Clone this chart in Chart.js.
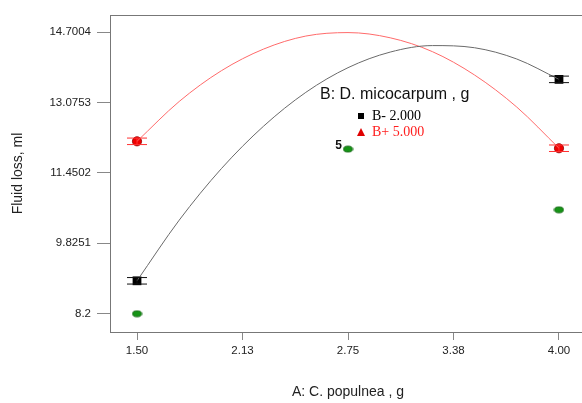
<!DOCTYPE html>
<html>
<head>
<meta charset="utf-8">
<script src="https://cdn.jsdelivr.net/npm/chart.js@4.4.0/dist/chart.umd.min.js"></script>
<style>
  html, body { margin: 0; padding: 0; background: #fff; overflow: hidden; }
  #wrap { width: 582px; height: 403px; overflow: hidden; }
</style>
</head>
<body>
<div id="wrap"><canvas id="fluidChart" width="610" height="403"></canvas></div>
<script>
// ===== values =====
const xTicks = [1.5, 2.125, 2.75, 3.375, 4.0];
const xTickLabels = ['1.50', '2.13', '2.75', '3.38', '4.00'];
const yTicks = [8.2, 9.8251, 11.4502, 13.0753, 14.7004];
const yTickLabels = ['8.2', '9.8251', '11.4502', '13.0753', '14.7004'];

// fitted curves (A on x, one line per level of B)
const curveA = [1.5, 1.75, 2.0, 2.25, 2.5, 2.75, 3.0, 3.25, 3.5, 3.75, 4.0];
const curveLow = [8.96, 10.36, 11.55, 12.53, 13.31, 13.88, 14.24, 14.39, 14.34, 14.08, 13.61];
const curveHigh = [12.18, 13.10, 13.81, 14.31, 14.61, 14.69, 14.57, 14.25, 13.71, 12.97, 12.02];

// predicted means at the design points, with LSD half-width
const designA = [1.5, 4.0];
const meanLow = [8.96, 13.61];
const meanHigh = [12.18, 12.02];
const lsdHalf = [0.075, 0.075];

// actual design points
const actualA = [1.5, 2.75, 4.0];
const actualY = [8.2, 12.0, 10.6];
const actualLabels = ['', '5', ''];

const SANS = '"Liberation Sans", Arial, sans-serif';
const SERIF = '"Liberation Serif", "Times New Roman", serif';

// green ellipse marker
const ellipse = document.createElement('canvas');
ellipse.width = 11; ellipse.height = 8;
(function () {
  const c = ellipse.getContext('2d');
  c.beginPath();
  c.ellipse(5.5, 4, 4.6, 3, 0, 0, Math.PI * 2);
  c.fillStyle = '#169416';
  c.fill();
  c.lineWidth = 0.8;
  c.strokeStyle = '#0b5a0b';
  c.stroke();
})();

const toXY = (xs, ys) => xs.map((x, i) => ({ x: x, y: ys[i] }));

// ===== extra drawing: error caps, point labels, frame top, legend =====
const extras = {
  id: 'extras',
  afterDatasetsDraw(chart) {
    const ctx = chart.ctx;
    const ys = chart.scales.y;
    const area = chart.chartArea;

    // top frame line
    ctx.save();
    ctx.strokeStyle = '#777';
    ctx.lineWidth = 1;
    ctx.beginPath();
    ctx.moveTo(area.left, area.top + 0.5);
    ctx.lineTo(area.right, area.top + 0.5);
    ctx.stroke();

    chart.data.datasets.forEach((ds, di) => {
      const meta = chart.getDatasetMeta(di);
      if (ds.errHalf) {
        ctx.strokeStyle = ds.capColor;
        ctx.lineWidth = 1;
        meta.data.forEach((pt, i) => {
          const v = ds.data[i].y;
          const yTop = ys.getPixelForValue(v + ds.errHalf[i]);
          const yBot = ys.getPixelForValue(v - ds.errHalf[i]);
          ctx.beginPath();
          ctx.moveTo(pt.x - 10, yTop); ctx.lineTo(pt.x + 10, yTop);
          ctx.moveTo(pt.x - 10, yBot); ctx.lineTo(pt.x + 10, yBot);
          ctx.moveTo(pt.x, yTop); ctx.lineTo(pt.x, yBot);
          ctx.stroke();
        });
      }
      if (ds.pointLabels) {
        ctx.fillStyle = '#111';
        ctx.font = 'bold 12px ' + SANS;
        ctx.textAlign = 'right';
        ctx.textBaseline = 'middle';
        meta.data.forEach((pt, i) => {
          if (ds.pointLabels[i]) ctx.fillText(ds.pointLabels[i], pt.x - 6, pt.y - 3);
        });
      }
    });

    // legend inside the plot
    ctx.textAlign = 'left';
    ctx.textBaseline = 'middle';
    ctx.fillStyle = '#111';
    ctx.font = '16px ' + SANS;
    ctx.fillText('B: D. micocarpum , g', 320, 95);

    ctx.fillStyle = '#000';
    ctx.fillRect(358, 113, 6, 6);
    ctx.font = '14px ' + SERIF;
    ctx.fillText('B- 2.000', 372, 116.5);

    ctx.fillStyle = '#e00000';
    ctx.beginPath();
    ctx.moveTo(361, 128); ctx.lineTo(365, 136); ctx.lineTo(357, 136);
    ctx.closePath();
    ctx.fill();
    ctx.fillStyle = '#ff2020';
    ctx.fillText('B+ 5.000', 372, 132.5);
    ctx.restore();
  }
};

const ctx = document.getElementById('fluidChart').getContext('2d');

const fluidChart = new Chart(ctx, {
  type: 'scatter',
  data: {
    datasets: [
      {
        type: 'line',
        data: toXY(curveA, curveLow),
        borderColor: '#6a6a6a',
        borderWidth: 1,
        pointRadius: 0,
        cubicInterpolationMode: 'monotone',
        fill: false
      },
      {
        type: 'line',
        data: toXY(curveA, curveHigh),
        borderColor: '#ff6a6a',
        borderWidth: 1,
        pointRadius: 0,
        cubicInterpolationMode: 'monotone',
        fill: false
      },
      {
        data: toXY(designA, meanLow),
        pointStyle: 'rect',
        pointRadius: 6.2,
        backgroundColor: '#000',
        borderColor: '#000',
        borderWidth: 0,
        errHalf: lsdHalf,
        capColor: '#111'
      },
      {
        data: toXY(designA, meanHigh),
        pointStyle: 'circle',
        pointRadius: 4.6,
        backgroundColor: '#f00000',
        borderColor: '#900000',
        borderWidth: 0.8,
        errHalf: lsdHalf,
        capColor: '#ff3030'
      },
      {
        data: toXY(actualA, actualY),
        pointStyle: ellipse,
        pointRadius: 5,
        pointLabels: actualLabels
      }
    ]
  },
  options: {
    responsive: false,
    animation: false,
    layout: { padding: { top: 15, right: 24, left: 0, bottom: 0 } },
    plugins: { legend: { display: false }, tooltip: { enabled: false } },
    scales: {
      x: {
        type: 'linear',
        min: 1.34,
        max: 4.16,
        afterBuildTicks: s => { s.ticks = xTicks.map(v => ({ value: v })); },
        afterFit: s => { s.height = 71; },
        ticks: {
          callback: (v, i) => xTickLabels[i],
          font: { family: SANS, size: 11.5 },
          color: '#222',
          padding: 4,
          maxRotation: 0,
          autoSkip: false
        },
        grid: { drawOnChartArea: false, drawTicks: true, tickLength: 8, color: '#888' },
        border: { display: true, color: '#777', width: 1 },
        title: {
          display: true,
          text: 'A: C. populnea , g',
          font: { family: SANS, size: 14 },
          color: '#222',
          padding: { top: 0, bottom: 2 }
        }
      },
      y: {
        type: 'linear',
        min: 7.778,
        max: 15.096,
        afterBuildTicks: s => { s.ticks = yTicks.map(v => ({ value: v })); },
        afterFit: s => { s.width = 110; },
        ticks: {
          callback: (v, i) => yTickLabels[i],
          font: { family: SANS, size: 11.5 },
          color: '#222',
          padding: 6,
          autoSkip: false
        },
        grid: { drawOnChartArea: false, drawTicks: true, tickLength: 13, color: '#888' },
        border: { display: true, color: '#777', width: 1 },
        title: {
          display: true,
          text: 'Fluid loss, ml',
          font: { family: SANS, size: 14 },
          color: '#222',
          padding: { top: 10, bottom: 0 }
        }
      }
    }
  },
  plugins: [extras]
});
</script>
</body>
</html>
